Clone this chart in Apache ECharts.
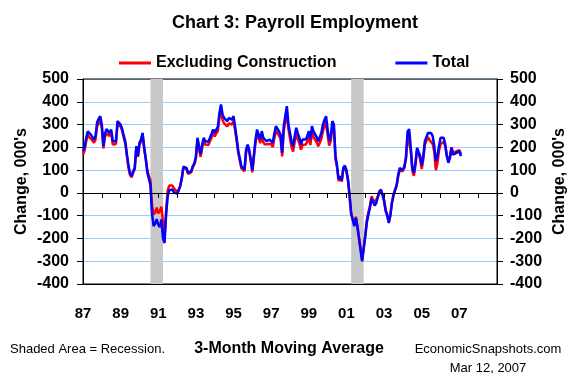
<!DOCTYPE html>
<html>
<head>
<meta charset="utf-8">
<script src="https://cdn.jsdelivr.net/npm/echarts@6/dist/echarts.min.js"></script>
<style>
html, body { margin: 0; padding: 0; background: #fff; }
#chart { width: 581px; height: 376px; }
</style>
</head>
<body>
<div id="chart"></div>
<script>
// monthly 3-month moving average, Jan 1987 .. Feb 2007 (000's)
var totalVals = [
    183, 200, 240, 270, 262, 256, 245, 234, 250, 310, 325, 337,   // 87
    300, 205, 260, 280, 275, 263, 278, 227, 232, 227, 315, 310,   // 88
    300, 280, 250, 225, 170, 120, 85, 75, 95, 110, 205, 161,      // 89
    220, 234, 263, 200, 150, 90, 62, 35, -90, -146, -135, -115,   // 90
    -140, -150, -117, -200, -220, -95, -15, 12, 8, 15, 2, -5,     // 91
    -3, 10, 30, 65, 115, 115, 110, 88, 80, 95, 117, 130,          // 92
    160, 242, 205, 170, 212, 242, 227, 220, 225, 232, 260, 278,   // 93
    263, 278, 290, 351, 388, 344, 329, 337, 315, 329, 337, 322,   // 94
    337, 290, 240, 185, 183, 117, 110, 102, 190, 212, 190, 146,   // 95
    100, 168, 234, 278, 256, 234, 271, 242, 234, 227, 234, 234,   // 96
    234, 220, 260, 293, 300, 270, 255, 176, 293, 337, 381, 300,   // 97
    263, 225, 205, 249, 286, 260, 242, 212, 234, 242, 234, 249,   // 98
    271, 234, 293, 270, 265, 245, 227, 245, 263, 300, 320, 337,   // 99
    278, 227, 249, 315, 300, 161, 120, 60, 73, 55, 110, 120,      // 00
    100, 59, -10, -90, -117, -146, -110, -150, -200, -250, -300, -245, // 01
    -190, -130, -95, -65, -25, -25, -55, -45, -20, 5, 15, -10,    // 02
    -35, -80, -100, -132, -100, -45, -8, 0, 35, 80, 110, 100,     // 03
    105, 110, 161, 270, 280, 200, 110, 88, 132, 198, 190, 161,    // 04
    120, 161, 227, 234, 263, 263, 263, 249, 205, 139, 161, 205,   // 05
    242, 249, 242, 212, 161, 132, 154, 198, 168, 168, 175, 183,   // 06
    183, 161                                                      // 07
];

var exclVals = [
    168, 185, 225, 255, 245, 240, 230, 220, 235, 292, 305, 318,   // 87
    285, 195, 245, 262, 260, 250, 262, 212, 218, 215, 298, 295,   // 88
    292, 272, 242, 215, 160, 110, 78, 68, 88, 105, 195, 158,      // 89
    212, 225, 255, 195, 152, 100, 75, 55, -55, -95, -85, -65,     // 90
    -90, -80, -60, -130, -190, -80, 10, 32, 30, 32, 20, 12,       // 91
    5, 15, 30, 62, 110, 110, 105, 84, 76, 90, 112, 125,           // 92
    150, 232, 192, 158, 198, 226, 212, 205, 210, 216, 244, 262,   // 93
    248, 262, 272, 330, 365, 320, 305, 312, 292, 305, 312, 300,   // 94
    318, 275, 228, 175, 172, 108, 102, 95, 178, 200, 180, 138,    // 95
    90, 158, 220, 262, 240, 218, 252, 222, 212, 210, 215, 215,    // 96
    215, 200, 240, 272, 280, 252, 238, 160, 270, 315, 355, 280,   // 97
    240, 200, 182, 225, 262, 236, 218, 190, 210, 218, 212, 225,   // 98
    246, 210, 265, 245, 240, 222, 205, 220, 238, 272, 292, 310,   // 99
    255, 208, 228, 290, 278, 150, 112, 52, 66, 50, 102, 112,      // 00
    92, 52, -15, -92, -115, -140, -105, -145, -195, -245, -295, -240, // 01
    -185, -120, -85, -55, -15, -15, -45, -38, -15, 8, 15, -5,     // 02
    -32, -75, -95, -125, -95, -42, -10, -3, 30, 72, 100, 92,      // 03
    95, 100, 150, 255, 262, 185, 98, 75, 120, 185, 176, 148,      // 04
    105, 148, 212, 220, 245, 232, 225, 215, 180, 100, 130, 185,   // 05
    215, 222, 225, 205, 165, 140, 160, 200, 175, 172, 182, 188,   // 06
    188, 170                                                      // 07
];

var firstYear = 1987;
var lastYear = 2009;   // axis runs to Jan 2009
var recessions = [['1990-08', '1991-04'], ['2001-04', '2001-12']];
var yTicks = { min: -400, max: 500, step: 100 };

var months = [];
for (var y = firstYear; y <= lastYear; y++) {
    for (var m = 1; m <= 12; m++) {
        if (y === lastYear && m > 1) break;
        months.push(y + '-' + (m < 10 ? '0' + m : m));
    }
}

var font = '"Liberation Sans", Arial, sans-serif';

var myChart = echarts.init(document.getElementById('chart'));

var option = {
    animation: false,
    backgroundColor: '#fff',
    legend: {
        data: ['Excluding Construction', 'Total'],
        left: 114,
        top: 50,
        icon: 'rect',
        itemWidth: 32,
        itemHeight: 3,
        itemGap: 59,
        textStyle: { fontFamily: font, fontWeight: 'bold', fontSize: 16, color: '#000', padding: [0, 0, 0, 0] }
    },
    grid: {
        left: 83, right: 84, top: 79, bottom: 92,
        show: true, borderColor: '#000', borderWidth: 1, z: 1
    },
    xAxis: [{
        type: 'category',
        data: months,
        boundaryGap: false,
        position: 'bottom',
        axisLine: { onZero: false, lineStyle: { color: '#000', width: 1 } },
        axisTick: { show: false },
        splitLine: { show: false },
        axisLabel: {
            interval: function (index) { return index % 24 === 0 && index < months.length - 1; },
            formatter: function (v) { return v.substr(2, 2); },
            margin: 22,
            fontFamily: font, fontWeight: 'bold', fontSize: 15, color: '#000'
        }
    }, {
        type: 'category',
        data: months,
        boundaryGap: false,
        position: 'top',
        z: 5,
        axisLine: { onZero: true, lineStyle: { color: '#000', width: 1 } },
        axisTick: {
            inside: true, length: 5,
            interval: function (index) { return index % 12 === 0; },
            lineStyle: { color: '#000' }
        },
        axisLabel: { show: false },
        splitLine: { show: false }
    }],
    yAxis: [{
        type: 'value',
        position: 'left',
        min: yTicks.min, max: yTicks.max, interval: yTicks.step,
        name: "Change, 000's",
        nameLocation: 'middle',
        nameRotate: 90,
        nameGap: 53,
        nameMoveOverlap: false,
        nameTextStyle: { fontFamily: font, fontWeight: 'bold', fontSize: 16, color: '#000' },
        axisLine: { show: true, lineStyle: { color: '#000' } },
        axisTick: { show: true, length: 6, lineStyle: { color: '#000' } },
        axisLabel: { margin: 14, fontFamily: font, fontWeight: 'bold', fontSize: 16, color: '#000' },
        splitLine: { show: true, lineStyle: { color: '#99CCFF', width: 1 } }
    }, {
        type: 'value',
        position: 'right',
        min: yTicks.min, max: yTicks.max, interval: yTicks.step,
        name: "Change, 000's",
        nameLocation: 'middle',
        nameRotate: 90,
        nameGap: 55,
        nameMoveOverlap: false,
        nameTextStyle: { fontFamily: font, fontWeight: 'bold', fontSize: 16, color: '#000' },
        axisLine: { show: true, lineStyle: { color: '#000' } },
        axisTick: { show: true, length: 6, lineStyle: { color: '#000' } },
        axisLabel: { margin: 13, fontFamily: font, fontWeight: 'bold', fontSize: 16, color: '#000' },
        splitLine: { show: false }
    }],
    series: [{
        name: 'recession',
        type: 'line',
        data: [],
        z: 2,
        markArea: {
            silent: true,
            itemStyle: { color: '#C8C8C8' },
            data: recessions.map(function (r) { return [{ xAxis: r[0] }, { xAxis: r[1] }]; })
        }
    }, {
        name: 'Excluding Construction',
        type: 'line',
        data: exclVals,
        showSymbol: false,
        symbol: 'none',
        z: 3,
        lineStyle: { color: '#FF0000', width: 2.5 },
        itemStyle: { color: '#FF0000' }
    }, {
        name: 'Total',
        type: 'line',
        data: totalVals,
        showSymbol: false,
        symbol: 'none',
        z: 4,
        lineStyle: { color: '#0000FF', width: 2.5 },
        itemStyle: { color: '#0000FF' }
    }],
    graphic: [{
        type: 'text', x: 295, y: 23,
        style: { text: 'Chart 3: Payroll Employment', font: 'bold 18px ' + font, fill: '#000', align: 'center', verticalAlign: 'middle' }
    }, {
        type: 'text', x: 10, y: 349,
        style: { text: 'Shaded Area = Recession.', font: '13px ' + font, fill: '#000', align: 'left', verticalAlign: 'middle' }
    }, {
        type: 'text', x: 289, y: 349,
        style: { text: '3-Month Moving Average', font: 'bold 16px ' + font, fill: '#000', align: 'center', verticalAlign: 'middle' }
    }, {
        type: 'text', x: 488, y: 349,
        style: { text: 'EconomicSnapshots.com', font: '13px ' + font, fill: '#000', align: 'center', verticalAlign: 'middle' }
    }, {
        type: 'text', x: 488, y: 368,
        style: { text: 'Mar 12, 2007', font: '13px ' + font, fill: '#000', align: 'center', verticalAlign: 'middle' }
    }]
};

myChart.setOption(option);
</script>
</body>
</html>
